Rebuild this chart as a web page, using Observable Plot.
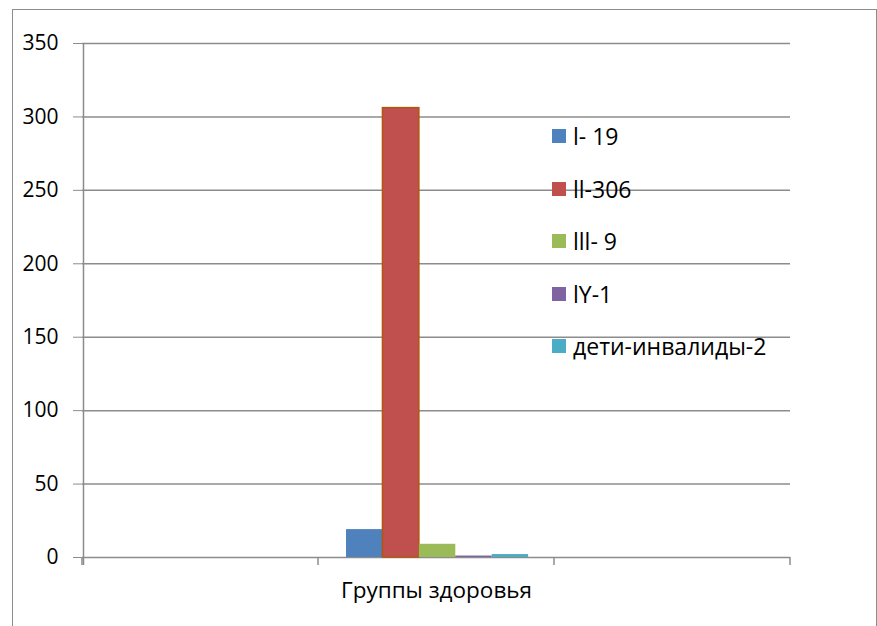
<!DOCTYPE html>
<html>
<head>
<meta charset="utf-8">
<script src="https://cdn.jsdelivr.net/npm/d3@7"></script>
<script src="https://cdn.jsdelivr.net/npm/@observablehq/plot@0.6"></script>
<style>
  html, body { margin: 0; padding: 0; background: #fff; overflow: hidden; }
  #wrap { position: relative; width: 877px; height: 626px; overflow: hidden; font-family: "Open Sans", Lato, sans-serif; }
  #border { position: absolute; left: 12px; top: 9px; width: 865px; height: 1000px; border: 1.5px solid #8c8c8c; box-sizing: border-box; }
  #chart { position: absolute; left: 0; top: 0; }
  #chart svg text { fill: #000; }
  #legend { position: absolute; left: 552px; top: 110px; font-size: 23px; color: #000; }
  .item { display: flex; align-items: center; height: 52.5px; }
  .sw { width: 14px; height: 14px; margin-right: 7px; }
</style>
</head>
<body>
<div id="wrap">
  <div id="border"></div>
  <div id="chart"></div>
  <div id="legend"></div>
</div>
<script>
const categories = ["", "Группы здоровья", " "];
const groupCategory = "Группы здоровья";
const series = ["l- 19", "ll-306", "lll- 9", "lY-1", "дети-инвалиды-2"];
const values = [19, 306, 9, 1, 2];
const colors = ["#4F81BD", "#C0504D", "#9BBB59", "#8064A2", "#4BACC6"];
const yTicks = [0, 50, 100, 150, 200, 250, 300, 350];

const data = series.map((s, i) => ({ category: groupCategory, series: s, value: values[i] }));
const grid = categories.flatMap(c => yTicks.map(t => ({ category: c, value: t })));

const plot = Plot.plot({
  width: 877,
  height: 626,
  marginLeft: 82,
  marginRight: 87,
  marginTop: 43,
  marginBottom: 69,
  style: { fontFamily: "'Open Sans', Lato, sans-serif", fontSize: "21px", color: "#8c8c8c", background: "transparent", overflow: "visible" },
  fx: { domain: categories, padding: 0, label: null, axis: "bottom", tickSize: 0, tickPadding: 25 },
  x: { domain: series, axis: null, paddingInner: 0, paddingOuter: 0.74, align: 0.52, round: false },
  y: { domain: [0, 350], ticks: yTicks, tickSize: 9, tickPadding: 15, label: null },
  color: { domain: series, range: colors },
  marks: [
    Plot.ruleY(grid, { fx: "category", y: "value", stroke: "#8c8c8c", strokeWidth: 1.5 }),
    Plot.barY(data, {
      fx: "category", x: "series", y: "value", fill: "series",
      stroke: d => d.series === "ll-306" ? "#B0560F" : "none", strokeWidth: 1.5
    })
  ]
});
document.getElementById("chart").appendChild(plot);

const svg = d3.select(plot);
svg.selectAll("text").filter(function () { return this.textContent === groupCategory; })
  .style("font-size", "22.5px");

// Excel-style category boundary ticks and value axis line, via the plot's scales
const fx = plot.scale("fx");
const y = plot.scale("y");
const y0 = y.apply(0);
const yTop = y.apply(350);
const bw = fx.bandwidth;
const edges = categories.map(c => fx.apply(c)).concat([fx.apply(categories[categories.length - 1]) + bw]);
const g = svg.append("g").attr("stroke", "#8c8c8c").attr("stroke-width", 1.5);
g.selectAll("line.t").data(edges).join("line")
  .attr("x1", d => d).attr("x2", d => d).attr("y1", y0).attr("y2", y0 + 8);
g.append("line").attr("x1", edges[0] + 1.5).attr("x2", edges[0] + 1.5).attr("y1", yTop).attr("y2", y0 + 8);

// Legend (vertical, inside plot area) using the plot's colour scale
const color = plot.scale("color");
const legend = d3.select("#legend");
series.forEach(s => {
  const it = legend.append("div").attr("class", "item");
  it.append("div").attr("class", "sw").style("background", color.apply(s));
  it.append("span").text(s);
});
</script>
</body>
</html>
